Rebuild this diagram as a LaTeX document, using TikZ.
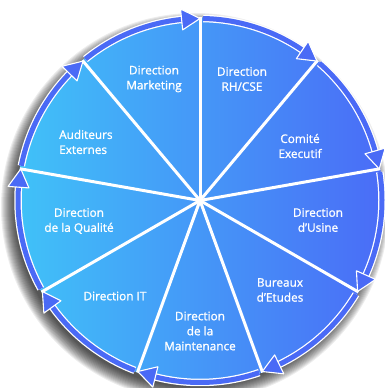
\documentclass[tikz,border=0pt]{standalone}
\usepackage{fontspec}
\setmainfont{Open Sans}[FakeBold=1.2,AutoFakeBold=1.2]
\usetikzlibrary{calc}
\definecolor{gleft}{HTML}{40C2F8}
\definecolor{gright}{HTML}{4A6CF7}
\definecolor{ringblue}{HTML}{4A6AF6}
\tikzset{
  label/.style={text=white, font=\fontsize{11.8}{15}\selectfont\bfseries, align=center, inner sep=0pt},
  spoke/.style={draw=white, line width=3pt},
  ringwhite/.style={draw=white, line width=7.5pt},
  ringblue/.style={draw=ringblue, line width=5pt},
  head/.style={fill=ringblue, draw=white, line width=1.1pt, line join=round}
}
\begin{document}
\begin{tikzpicture}[x=1pt,y=1pt]
\useasboundingbox (0,0) rectangle (385,388);
\def\R{183}
\def\Rb{182}
\coordinate (C) at (200,187.5);
\coordinate (S) at (195,181);
% soft shadow
\foreach \i in {0,...,14}{
  \fill[black, opacity=0.07] (S) circle[radius=\R pt - 3pt + \i pt];
}
% disc
\shade[left color=gleft, right color=gright] (C) circle[radius=\R pt];
% spokes
\foreach \a in {90,50,10,-30,-70,-110,-150,170,130}{
  \draw[spoke] (C) -- ($(C)+(\a:\R pt)$);
}
% ring arcs with arrowheads
\foreach \a in {90,50,10,-30,-70,-110,-150,170,130}{
  \draw[ringwhite] ($(C)+(\a+39:\Rb pt)$) arc[start angle=\a+39, end angle=\a+4, radius=\Rb pt];
  \draw[ringblue] ($(C)+(\a+39:\Rb pt)$) arc[start angle=\a+39, end angle=\a+4, radius=\Rb pt];
  \filldraw[head] ($(C)+(\a:\Rb pt)$) -- ($(C)+(\a+5.8:\Rb pt+10.5pt)$) -- ($(C)+(\a+5.8:\Rb pt-10.5pt)$) -- cycle;
}
% labels
\node[label] (mkt) at (154,309) {Direction\\Marketing};
\node[label] (rh) at (242,309) {Direction\\RH/CSE};
\node[label] (com) at (300,242) {Comité\\Executif};
\node[label] (usi) at (318,168) {Direction\\d’Usine};
\node[label] (bur) at (280,98) {Bureaux\\d’Etudes};
\node[label] (mai) at (200,57) {Direction\\de la\\Maintenance};
\node[label] (it) at (115,92) {Direction IT};
\node[label] (qua) at (79,167) {Direction\\de la Qualité};
\node[label, align=left, anchor=west] (aud) at (59,246) {Auditeurs\\Externes};
\end{tikzpicture}
\end{document}
